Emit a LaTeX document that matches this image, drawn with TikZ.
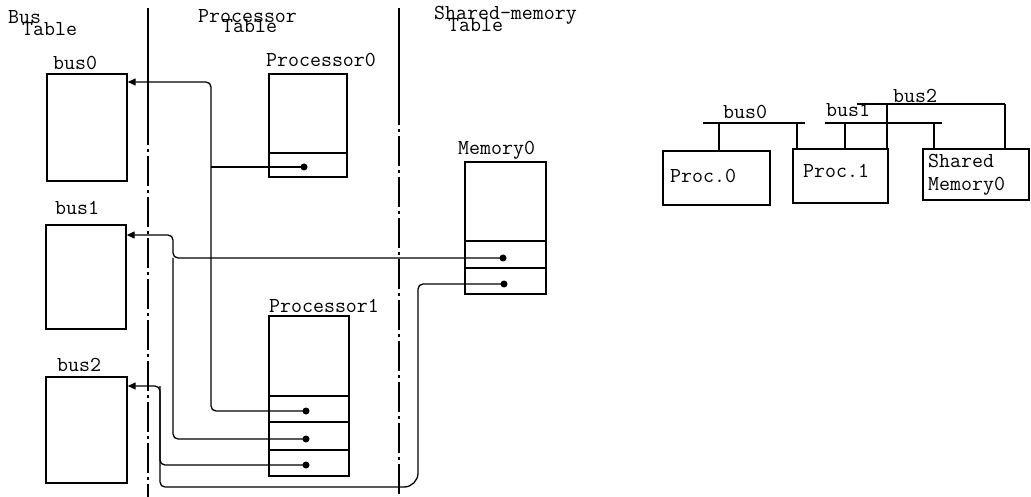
\documentclass[tikz,border=0pt]{standalone}
\usepackage{fontspec}
\usetikzlibrary{arrows.meta}
\tikzset{
  lbl/.style={font=\ttfamily\fontsize{21.3}{23}\selectfont, anchor=base west, inner sep=0pt},
  tbl/.style={draw, line width=1.4pt, inner sep=0pt},
  sepline/.style={line width=1.4pt},
  conn/.style={line width=1.3pt, rounded corners=5pt},
  arr/.style={-{Triangle[length=8pt,width=7pt]}},
  dotn/.style={circle, fill, inner sep=0pt, minimum size=7pt},
  divsolid/.style={line width=1.2pt},
  divdash/.style={line width=1.2pt, dash pattern=on 30pt off 4pt on 3pt off 4pt},
  busline/.style={line width=1.3pt}
}
\begin{document}
\begin{tikzpicture}[x=1pt,y=-1pt]
\useasboundingbox (0,0) rectangle (1031,497);

% dividers
\draw[divsolid] (148,8) -- (148,115);
\draw[divdash] (148,115) -- (148,497);
\draw[divsolid] (399,8) -- (399,95);
\draw[divdash] (399,95) -- (399,497);

% headers
\node[lbl] (hbus) at (8,24) {Bus};
\node[lbl] (hbust) at (22,36) {Table};
\node[lbl] (hproc) at (198,23) {Processor};
\node[lbl] (hproct) at (222,33) {Table};
\node[lbl] (hsm) at (434,20) {Shared-memory};
\node[lbl] (hsmt) at (448,32) {Table};

% bus table
\node[tbl, minimum width=80pt, minimum height=107pt] (bus0) at (87,127.5) {};
\node[tbl, minimum width=80pt, minimum height=104pt] (bus1) at (86,277) {};
\node[tbl, minimum width=81pt, minimum height=106pt] (bus2) at (86.5,430) {};
\node[lbl] (lbus0) at (53,70) {bus0};
\node[lbl] (lbus1) at (55,215) {bus1};
\node[lbl] (lbus2) at (57,371) {bus2};

% processor table
\node[tbl, minimum width=78pt, minimum height=103pt] (p0) at (308,125.5) {};
\draw[sepline] (p0.west |- 0,153) -- (p0.east |- 0,153);
\node[lbl] (lp0) at (266,67) {Processor0};

\node[tbl, minimum width=80pt, minimum height=160pt] (p1) at (309,396) {};
\draw[sepline] (p1.west |- 0,396) -- (p1.east |- 0,396);
\draw[sepline] (p1.west |- 0,422) -- (p1.east |- 0,422);
\draw[sepline] (p1.west |- 0,450) -- (p1.east |- 0,450);
\node[lbl] (lp1) at (269,312) {Processor1};

% shared memory table
\node[tbl, minimum width=81pt, minimum height=132pt] (m0) at (505.5,228) {};
\draw[sepline] (m0.west |- 0,241) -- (m0.east |- 0,241);
\draw[sepline] (m0.west |- 0,268) -- (m0.east |- 0,268);
\node[lbl] (lm0) at (458,155) {Memory0};

% dots
\node[dotn] (p0d) at (304,167) {};
\node[dotn] (m0d1) at (503,258) {};
\node[dotn] (m0d2) at (504,284) {};
\node[dotn] (p1d1) at (306,411) {};
\node[dotn] (p1d2) at (306,439) {};
\node[dotn] (p1d3) at (306,465) {};

% corner coordinates
\coordinate (k0) at (211,82);
\coordinate (b0in) at (bus0.east |- k0);
\coordinate (k1) at (173,235);
\coordinate (b1in) at (bus1.east |- k1);
\coordinate (k2) at (160,386);
\coordinate (b2in) at (bus2.east |- k2);
\coordinate (k3) at (418,487);

% connectors
\draw[conn,arr] (p1d1.center) -| (k0) -- (b0in);
\draw[conn] (p0d.center) -- (p0d.center -| k0);
\draw[conn,arr] (m0d1.center) -- (m0d1.center -| k1) -- (k1) -- (b1in);
\draw[conn] (p1d2.center) -| (m0d1.center -| k1);
\draw[conn,arr] (m0d2.center) -- (m0d2.center -| k3) [rounded corners=14pt] -- (k3) [rounded corners=5pt] -| (k2) -- (b2in);
\draw[conn] (p1d3.center) -| (k2);

% right figure
\node[tbl, minimum width=107pt, minimum height=54pt] (rp0) at (716.5,178) {};
\node[tbl, minimum width=95pt, minimum height=54pt] (rp1) at (840.5,176) {};
\node[tbl, minimum width=106pt, minimum height=51pt] (rsm) at (976,174.5) {};
\node[lbl] (lrp0) at (670,183) {Proc.0};
\node[lbl] (lrp1) at (803,178) {Proc.1};
\node[lbl] (lrsm1) at (928,168) {Shared};
\node[lbl] (lrsm2) at (928,191) {Memory0};

\coordinate (rb0s) at (703,123);
\coordinate (rb0e) at (805,123);
\coordinate (rb1s) at (825,123);
\coordinate (rb1e) at (942,123);
\coordinate (rb2s) at (857,104);
\coordinate (rb2e) at (1005,104);
\draw[busline] (rb0s) -- (rb0e);
\draw[busline] (rb1s) -- (rb1e);
\draw[busline] (rb2s) -- (rb2e);
\node[lbl] (lrb0) at (723,119) {bus0};
\node[lbl] (lrb1) at (826,117) {bus1};
\node[lbl] (lrb2) at (893,103) {bus2};

\coordinate (d0a) at (719,123);
\coordinate (d0b) at (797,123);
\coordinate (d1a) at (845,123);
\coordinate (d1b) at (934,123);
\coordinate (d2a) at (887,104);
\coordinate (d2b) at (1005,104);
\draw[busline] (d0a) -- (d0a |- rp0.north);
\draw[busline] (d0b) -- (d0b |- rp1.north);
\draw[busline] (d1a) -- (d1a |- rp1.north);
\draw[busline] (d1b) -- (d1b |- rsm.north);
\draw[busline] (d2a) -- (d2a |- rp1.north);
\draw[busline] (d2b) -- (d2b |- rsm.north);
\end{tikzpicture}
\end{document}
